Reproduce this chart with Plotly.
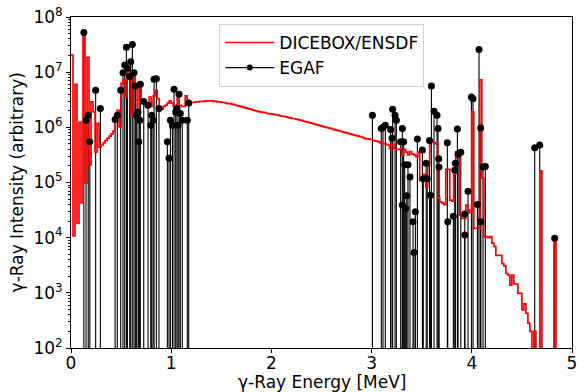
import plotly.graph_objects as go

# ---------------- data ----------------
bin_width = 0.02  # MeV
# DICEBOX/ENSDF histogram, log10(intensity) per 0.02 MeV bin from 0 to 5 MeV (0 = empty bin)
dicebox_log10 = [
    7.31, 4.03, 6.78, 4.26, 6.09, 4.63, 7.70, 4.99, 7.27, 5.32,   # 0.00-0.20
    6.46, 6.28, 5.55, 6.07, 5.64, 5.68, 5.72, 5.76, 5.80, 5.84,   # 0.20-0.40
    5.88, 5.93, 6.11, 6.31, 6.01, 6.80, 6.86, 6.55, 7.02, 6.95,   # 0.40-0.60
    6.22, 6.92, 6.78, 6.22, 6.72, 6.44, 6.44, 6.42, 6.40, 6.55,   # 0.60-0.80
    6.38, 6.57, 6.67, 6.52, 6.33, 6.33, 6.38, 6.40, 6.44, 6.48,   # 0.80-1.00
    6.44, 6.38, 6.40, 6.64, 6.40, 6.38, 6.38, 6.57, 6.41, 6.44,   # 1.00-1.20
    6.45, 6.45, 6.46, 6.46, 6.47, 6.47, 6.47, 6.48, 6.48, 6.48,   # 1.20-1.40
    6.48, 6.47, 6.47, 6.46, 6.46, 6.45, 6.45, 6.44, 6.43, 6.43,   # 1.40-1.60
    6.42, 6.41, 6.40, 6.39, 6.38, 6.37, 6.36, 6.35, 6.34, 6.33,   # 1.60-1.80
    6.32, 6.31, 6.30, 6.29, 6.28, 6.27, 6.27, 6.26, 6.25, 6.25,   # 1.80-2.00
    6.24, 6.23, 6.23, 6.22, 6.21, 6.20, 6.20, 6.19, 6.18, 6.17,   # 2.00-2.20
    6.16, 6.16, 6.15, 6.14, 6.13, 6.12, 6.11, 6.10, 6.09, 6.08,   # 2.20-2.40
    6.07, 6.06, 6.05, 6.04, 6.03, 6.02, 6.01, 6.00, 5.99, 5.98,   # 2.40-2.60
    5.97, 5.96, 5.95, 5.94, 5.93, 5.92, 5.91, 5.90, 5.89, 5.88,   # 2.60-2.80
    5.87, 5.86, 5.85, 5.84, 5.83, 5.82, 5.80, 5.79, 5.79, 5.78,   # 2.80-3.00
    5.77, 5.76, 5.75, 5.74, 5.72, 5.70, 5.71, 5.69, 5.68, 5.62,   # 3.00-3.20
    5.69, 5.62, 5.60, 5.60, 5.60, 5.50, 5.60, 5.55, 5.50, 5.56,   # 3.20-3.40
    5.52, 5.50, 5.47, 5.55, 5.04, 5.04, 5.15, 4.92, 5.32, 5.77,   # 3.40-3.60
    5.74, 5.72, 5.70, 4.72, 4.65, 4.63, 4.60, 5.24, 5.24, 4.68,   # 3.60-3.80
    4.66, 5.15, 5.56, 5.50, 4.41, 4.35, 4.35, 4.59, 4.50, 4.45,   # 3.80-4.00
    6.28, 4.17, 4.17, 4.17, 6.86, 5.08, 4.02, 4.02, 4.00, 4.02,   # 4.00-4.20
    3.90, 3.84, 3.68, 3.68, 3.68, 3.53, 3.49, 3.35, 3.32, 3.14,   # 4.20-4.40
    3.32, 3.16, 3.16, 2.99, 2.99, 2.69, 2.80, 2.63, 2.45, 2.30,   # 4.40-4.60
    0.00, 2.30, 0.00, 0.00, 5.21, 0.00, 0.00, 0.00, 0.00, 0.00,   # 4.60-4.80
    0.00, 3.99, 0.00, 0.00, 0.00, 0.00, 0.00, 0.00, 0.00, 0.00,   # 4.80-5.00
]

# EGAF gamma lines: energy [MeV] and log10(intensity)
egaf_energy = [
    0.128, 0.150, 0.172, 0.188, 0.246, 0.293, 0.440, 0.462,
    0.496, 0.519, 0.536, 0.553, 0.563, 0.586, 0.596, 0.612, 0.629, 0.642,
    0.652, 0.669, 0.676, 0.686, 0.692, 0.726, 0.769, 0.796, 0.805, 0.819,
    0.829, 0.852, 0.878, 0.962, 0.978, 0.992, 1.012, 1.028, 1.045, 1.058,
    1.068, 1.078, 1.091, 1.111, 1.161, 1.175,
    3.008, 3.097, 3.114, 3.137, 3.190, 3.204, 3.210, 3.234, 3.247, 3.290,
    3.307, 3.307, 3.320, 3.330, 3.340, 3.350, 3.363, 3.383, 3.413, 3.423,
    3.437, 3.457, 3.507, 3.516, 3.545, 3.555, 3.578,
    3.587, 3.597, 3.623, 3.653, 3.663, 3.670, 3.673, 3.756, 3.760, 3.816,
    3.830, 3.836, 3.856, 3.863, 3.890, 3.930, 3.930, 3.962, 3.996, 4.012,
    4.056, 4.072, 4.089, 4.089, 4.112, 4.135,
    4.628, 4.678, 4.827,
]
egaf_log10 = [
    7.72, 6.13, 6.22, 5.74, 6.67, 6.34, 6.14, 6.22,
    6.67, 6.99, 7.13, 7.45, 7.07, 6.92, 7.19, 7.50, 6.99, 6.75,
    6.22, 6.28, 5.74, 6.13, 6.78, 6.47, 6.40, 6.04, 6.22, 6.13,
    6.87, 6.88, 6.34, 5.74, 5.44, 6.13, 6.04, 6.69, 6.28, 6.34,
    6.04, 6.60, 6.25, 6.13, 6.13, 6.44,
    6.22, 5.98, 6.00, 6.04, 5.96, 5.80, 6.33, 6.22, 6.13, 5.74,
    5.98, 4.59, 5.74, 5.32, 4.53, 4.76, 5.32, 5.10, 4.29, 3.73,
    4.47, 5.79, 5.59, 5.07, 5.35, 5.07, 5.76,
    4.77, 6.75, 6.29, 6.22, 5.98, 5.43, 5.28, 5.72, 4.29, 4.39,
    5.22, 5.35, 5.97, 5.51, 5.55, 4.43, 4.05, 4.84, 6.55, 6.52,
    4.60, 7.41, 5.99, 4.29, 5.28, 5.29,
    5.63, 5.68, 3.99,
]

x_tick_vals = [0, 1, 2, 3, 4, 5]
y_tick_vals = [1e2, 1e3, 1e4, 1e5, 1e6, 1e7, 1e8]
y_tick_text = ["10<sup>2</sup>", "10<sup>3</sup>", "10<sup>4</sup>", "10<sup>5</sup>",
               "10<sup>6</sup>", "10<sup>7</sup>", "10<sup>8</sup>"]
x_title = "γ-Ray Energy [MeV]"
y_title = "γ-Ray Intensity (arbitrary)"

# ---------------- build ----------------
n_bins = len(dicebox_log10)
edges = [i * bin_width for i in range(n_bins + 1)]
hist_y = [10 ** v for v in dicebox_log10]
step_x = edges
step_y = hist_y + [hist_y[-1]]

stem_x, stem_y = [], []
for e, l in zip(egaf_energy, egaf_log10):
    stem_x += [e, e, None]
    stem_y += [1.0, 10 ** l, None]
egaf_y = [10 ** l for l in egaf_log10]

minor_vals = [m * 10 ** d for d in range(2, 8) for m in range(2, 10)]

font = "DejaVu Sans, Liberation Sans, sans-serif"

fig = go.Figure()
fig.add_trace(go.Scatter(x=stem_x, y=stem_y, mode="lines",
                         line=dict(color="black", width=1.1),
                         showlegend=False, hoverinfo="skip"))
fig.add_trace(go.Scatter(x=step_x, y=step_y, mode="lines", line_shape="hv",
                         line=dict(color="#ff0000", width=1.7),
                         name="DICEBOX/ENSDF"))
fig.add_trace(go.Scatter(x=egaf_energy, y=egaf_y, mode="markers",
                         marker=dict(color="black", size=7),
                         showlegend=False))
fig.add_trace(go.Scatter(x=[None], y=[None], mode="lines+markers",
                         line=dict(color="black", width=1.1),
                         marker=dict(color="black", size=6),
                         name="EGAF"))

fig.update_layout(
    width=584, height=392,
    margin=dict(l=71, r=12, t=17, b=44),
    paper_bgcolor="white", plot_bgcolor="white",
    font=dict(family=font, size=17, color="black"),
    showlegend=True,
    legend=dict(x=0.296, y=0.979, xanchor="left", yanchor="top",
                bgcolor="rgba(255,255,255,0.85)", bordercolor="#d0d0d0",
                borderwidth=1, font=dict(size=17), itemwidth=49,
                tracegroupgap=0),
    annotations=[
        dict(text=x_title, xref="paper", yref="paper", x=0.5, y=-0.104,
             xanchor="center", yanchor="middle", showarrow=False,
             font=dict(size=17)),
        dict(text=y_title, xref="paper", yref="paper", x=-0.108, y=0.5,
             xanchor="center", yanchor="middle", showarrow=False,
             textangle=-90, font=dict(size=17)),
    ],
)
fig.update_xaxes(range=[0, 5], tickvals=x_tick_vals, automargin=False,
                 ticks="outside", ticklen=4, tickcolor="black",
                 ticklabelstandoff=-4,
                 showline=True, linecolor="black", linewidth=1, mirror=True,
                 showgrid=False, zeroline=False, tickfont=dict(size=17))
fig.update_yaxes(type="log", range=[2, 8], tickvals=y_tick_vals, ticktext=y_tick_text,
                 automargin=False,
                 ticks="outside", ticklen=4, tickcolor="black",
                 minor=dict(tickvals=minor_vals, ticks="outside", ticklen=2,
                            tickcolor="black", showgrid=False),
                 showline=True, linecolor="black", linewidth=1, mirror=True,
                 showgrid=False, zeroline=False, tickfont=dict(size=17))

fig.write_html("out.html")
